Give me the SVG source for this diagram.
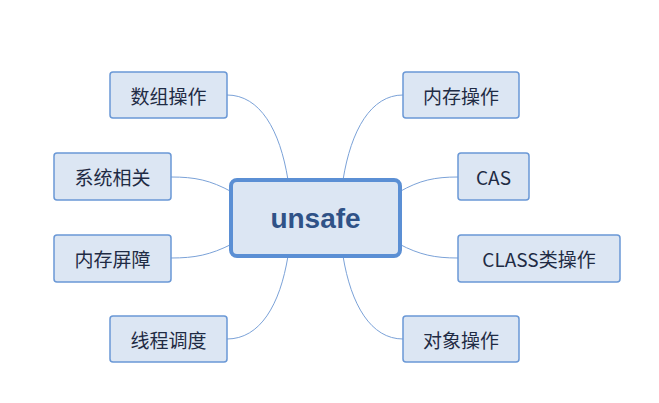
<svg xmlns="http://www.w3.org/2000/svg" width="659" height="403" viewBox="0 0 659 403">
<style>
.n rect{fill:#dce6f3;stroke:#6a98d6;stroke-width:1.5}
.n text{font-family:"Noto Sans CJK SC","Liberation Sans",sans-serif;font-size:19px;fill:#1f2b44;text-anchor:middle;dominant-baseline:central}
#conn path{fill:none;stroke:#7ba2d8;stroke-width:1}
</style>
<rect width="659" height="403" fill="#fff"/>
<g id="conn">
<path d="M288,180 C280,130 260,95 227,95"/>
<path d="M232,192 C210,180 195,177 171,177"/>
<path d="M232,244 C210,255 195,258 171,258"/>
<path d="M288,256 C280,305 260,339 227,339"/>
<path d="M343,180 C351,130 371,95 403,95"/>
<path d="M399,192 C420,180 435,177 458,177"/>
<path d="M399,244 C420,255 435,258 458,258"/>
<path d="M343,256 C351,305 371,339 403,339"/>
</g>
<g id="center" class="n"><rect x="231" y="180" width="169" height="76" rx="6" style="stroke:#5b8fd4;stroke-width:4"/><text x="315.5" y="218" style="font-family:'Liberation Sans',sans-serif;font-size:28px;font-weight:bold;fill:#2f5287">unsafe</text></g>
<g id="n1" class="n"><rect x="110" y="72" width="117" height="46" rx="3"/><text x="168.5" y="95">数组操作</text></g>
<g id="n2" class="n"><rect x="54" y="153" width="117" height="47" rx="3"/><text x="112.5" y="176.5">系统相关</text></g>
<g id="n3" class="n"><rect x="54" y="235" width="117" height="47" rx="3"/><text x="112.5" y="258.5">内存屏障</text></g>
<g id="n4" class="n"><rect x="110" y="316" width="117" height="46" rx="3"/><text x="168.5" y="339">线程调度</text></g>
<g id="n5" class="n"><rect x="403" y="72" width="116" height="46" rx="3"/><text x="461" y="95">内存操作</text></g>
<g id="n6" class="n"><rect x="458" y="153" width="71" height="47" rx="3"/><text x="493.5" y="176.5">CAS</text></g>
<g id="n7" class="n"><rect x="458" y="235" width="162" height="47" rx="3"/><text x="539" y="258.5">CLASS类操作</text></g>
<g id="n8" class="n"><rect x="403" y="316" width="116" height="46" rx="3"/><text x="461" y="339">对象操作</text></g>
</svg>
